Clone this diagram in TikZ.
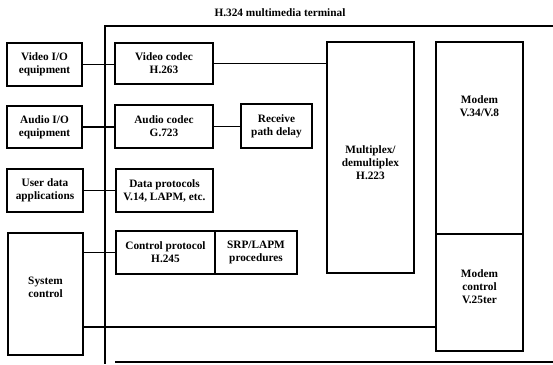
\documentclass[tikz,border=0pt]{standalone}
\usepackage{fontspec}
\setmainfont{Liberation Serif}
\begin{document}
\begin{tikzpicture}[x=1pt,y=-1pt,
  every node/.style={font=\bfseries\fontsize{11.3}{13}\selectfont, align=center, inner sep=0pt},
  blk/.style={draw, line width=1.1pt, rectangle},
  conn/.style={line width=1.1pt},
  txt/.style={draw=none}]
\useasboundingbox (0,0) rectangle (553,364);
% frame
\node[txt] (title) at (280,13) {H.324 multimedia terminal};
\coordinate (ftl) at (105,26);
\coordinate (ftr) at (553,26);
\coordinate (fbl) at (105,364);
\coordinate (fbs) at (115,362);
\coordinate (fbr) at (553,362);
\draw[conn] (ftr) -- (ftl) -- (fbl);
\draw[conn] (fbs) -- (fbr);
% left column
\node[blk, minimum width=75pt, minimum height=43pt] (vio) at (44.5,64.5) {Video I/O\\equipment};
\node[blk, minimum width=75pt, minimum height=42pt] (aio) at (44.5,127) {Audio I/O\\equipment};
\node[blk, minimum width=76pt, minimum height=43pt] (udata) at (45,190.5) {User data\\applications};
\node[blk, minimum width=75pt, minimum height=122pt] (sysc) at (45.5,294) {};
\node[txt] (sysct) at (45.5,287) {System\\control};
% middle column
\node[blk, minimum width=98pt, minimum height=41pt] (vcodec) at (164,63.5) {Video codec\\H.263};
\node[blk, minimum width=98pt, minimum height=43pt] (acodec) at (164,126.5) {Audio codec\\G.723};
\node[blk, minimum width=97pt, minimum height=43pt] (dproto) at (164.5,190.5) {Data protocols\\V.14, LAPM, etc.};
\node[blk, minimum width=99pt, minimum height=43pt] (cproto) at (165.5,252.5) {Control protocol\\H.245};
\node[blk, minimum width=82pt, minimum height=43pt] (srp) at (256,252.5) {SRP/LAPM\\procedures};
\node[blk, minimum width=71pt, minimum height=44pt] (rdelay) at (276.5,126) {Receive\\path delay};
% right
\node[blk, minimum width=87pt, minimum height=231pt] (mux) at (370.5,157.5) {};
\node[txt] (muxt) at (370.5,163) {Multiplex/\\demultiplex\\H.223};
\node[blk, minimum width=87pt, minimum height=192pt] (modem) at (479.5,138) {};
\node[txt] (modemt) at (479.5,106) {Modem\\V.34/V.8};
\node[blk, minimum width=87pt, minimum height=117pt] (mctrl) at (479.5,292.5) {};
\node[txt] (mctrlt) at (479.5,287) {Modem\\control\\V.25ter};
% connectors
\draw[conn] (vio.east) -- (vio.east -| vcodec.west);
\draw[conn] (vcodec.east) -- (vcodec.east -| mux.west);
\draw[conn] (aio.east) -- (aio.east -| acodec.west);
\draw[conn] (acodec.east) -- (acodec.east -| rdelay.west);
\draw[conn] (udata.east) -- (udata.east -| dproto.west);
\draw[conn] (sysc.east |- cproto.west) -- (cproto.west);
\coordinate (sm) at (83,327);
\draw[conn] (sm -| sysc.east) -- (sm -| mctrl.west);
\end{tikzpicture}
\end{document}
